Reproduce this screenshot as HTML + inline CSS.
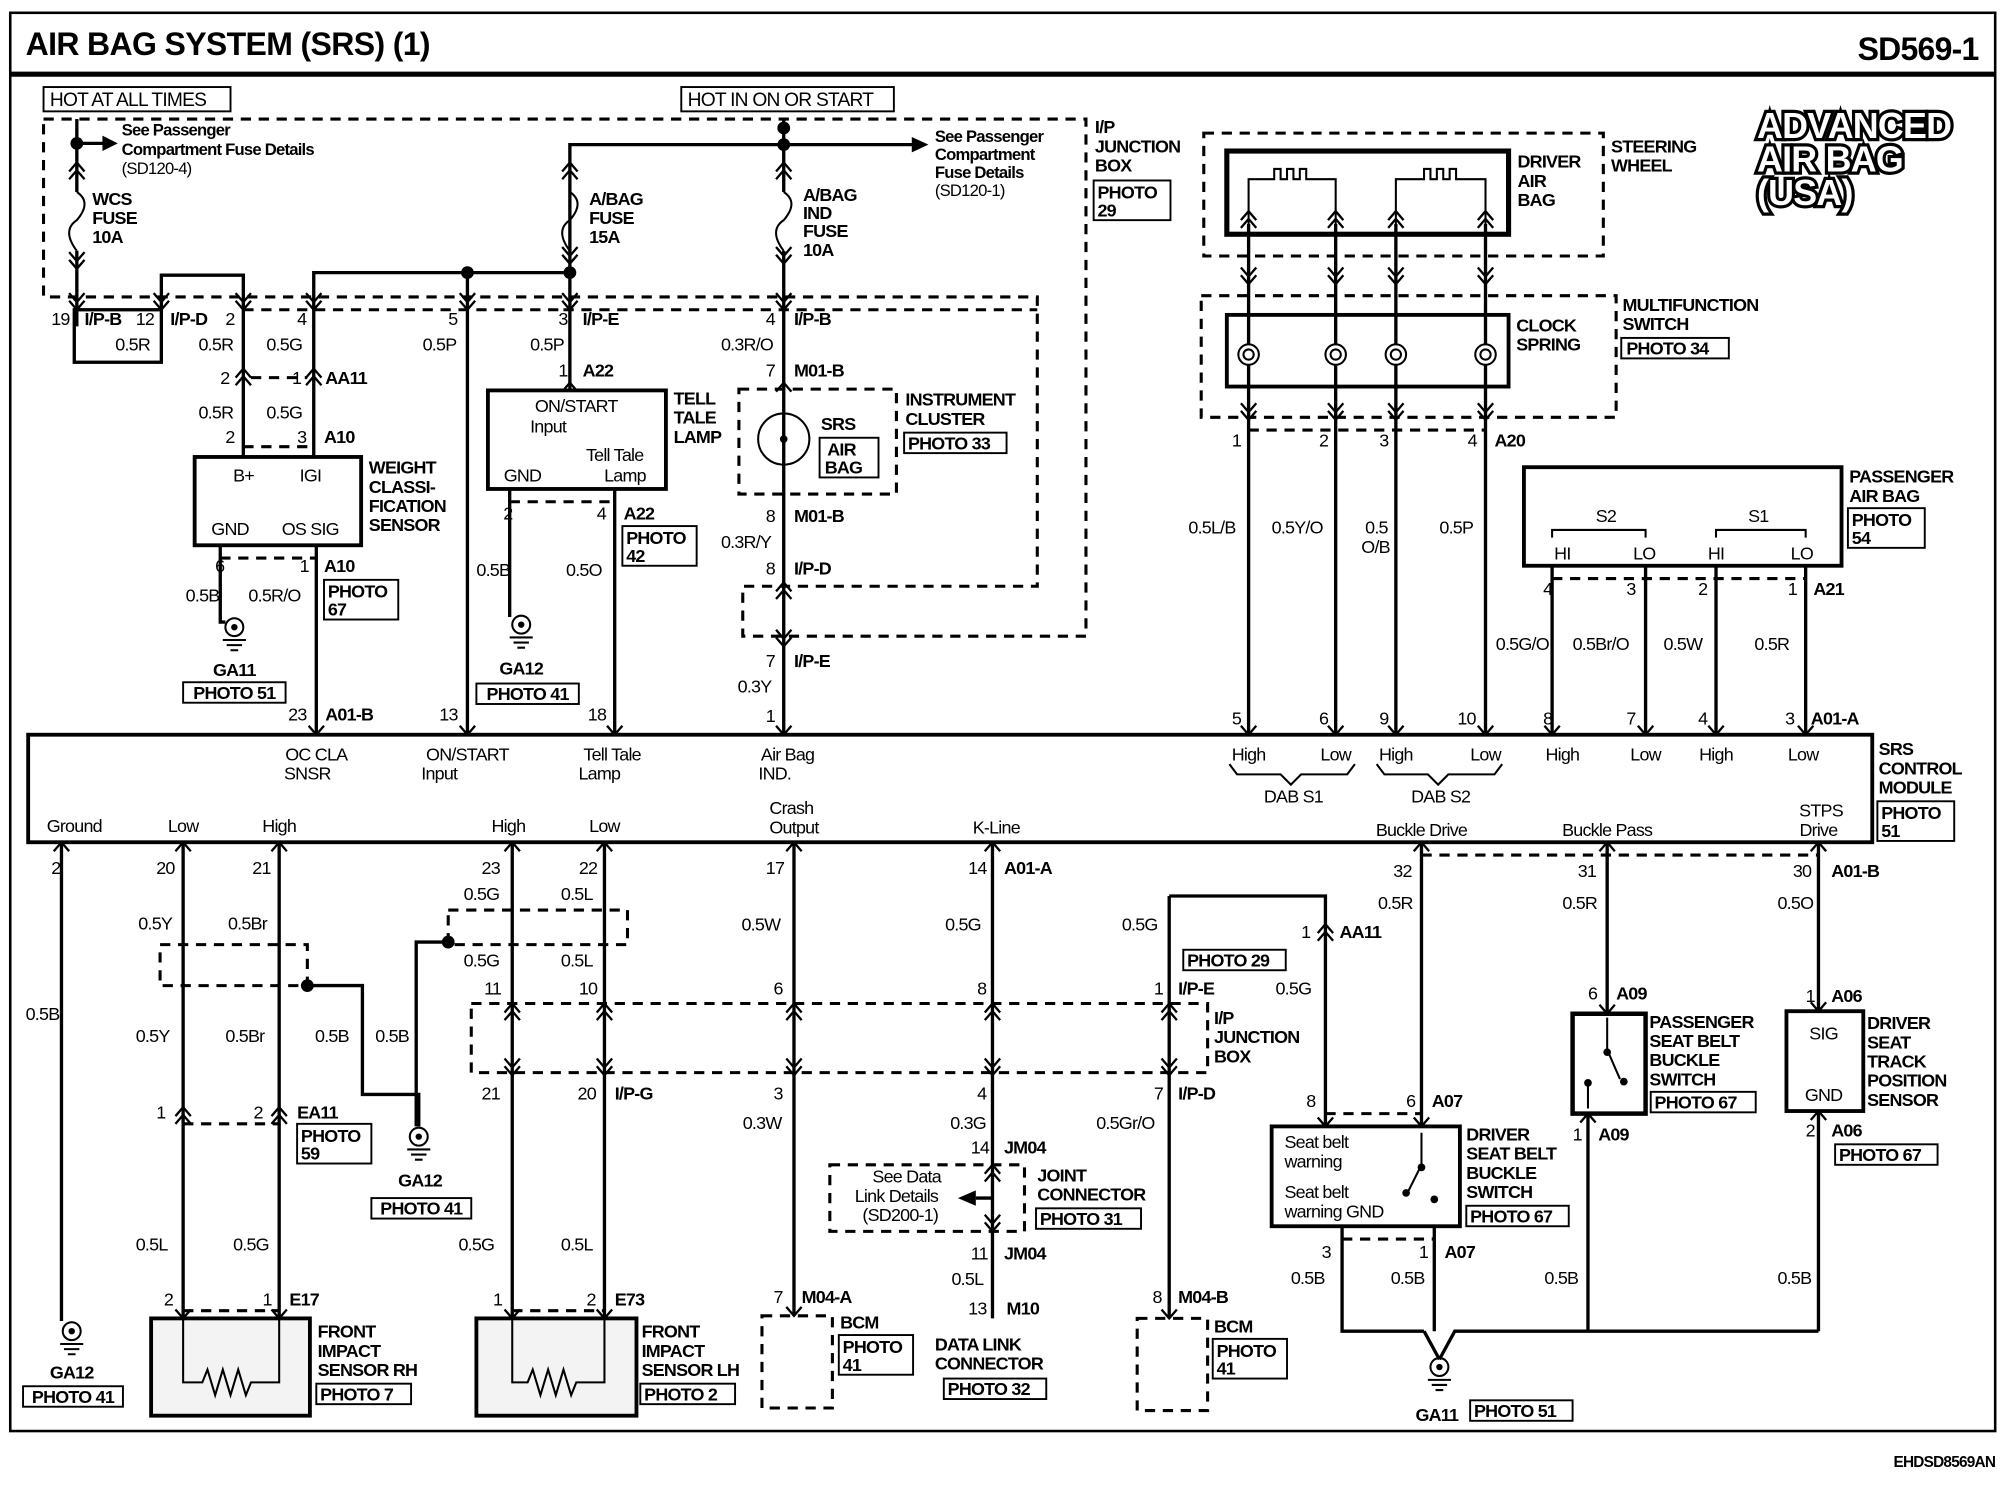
<!DOCTYPE html>
<html><head><meta charset="utf-8"><style>
html,body{margin:0;padding:0;background:#fff}
svg{display:block}
.w{stroke:#000;stroke-width:2.6;fill:none}
.n{stroke:#000;stroke-width:1.6;fill:none}
.d{stroke:#000;stroke-width:2.4;fill:none;stroke-dasharray:8 6}
.b{stroke:#000;stroke-width:3;fill:#fff}
.v{stroke:#000;stroke-width:1.8;fill:none}
text{font-family:"Liberation Sans",Arial,sans-serif;font-size:14px;font-weight:bold;letter-spacing:-0.6px;fill:#000}
.s{font-weight:normal}
.c{text-anchor:middle}
.r{text-anchor:end}
</style></head><body>
<svg width="2008" height="1504" viewBox="0 0 1568 1175" preserveAspectRatio="none" xmlns="http://www.w3.org/2000/svg">
<defs>
<path id="dn" class="v" d="M-6 -7 L0 0 L6 -7 M-6 -13 L0 -6 L6 -13"/>
<path id="up" class="v" d="M-6 7 L0 0 L6 7 M-6 13 L0 6 L6 13"/>
<path id="d1" class="v" d="M-6 -7 L0 0 L6 -7"/>
<path id="u1" class="v" d="M-6 7 L0 0 L6 7"/>
</defs>
<rect x="8" y="10" width="1550" height="1108" fill="none" stroke="#000" stroke-width="2"/>
<line x1="8" y1="58" x2="1558" y2="58" stroke="#000" stroke-width="4"/>
<text x="20" y="43" style="font-size:25px;letter-spacing:-0.5px">AIR BAG SYSTEM (SRS) (1)</text>
<text x="1545" y="47" class="r" style="font-size:25px">SD569-1</text>
<text x="1558" y="1146" class="r" style="font-size:12px">EHDSD8569AN</text>

<rect x="34" y="68" width="146" height="19" fill="none" stroke="#000" stroke-width="1.5"/>
<text x="39" y="83" class="s" style="font-size:15px">HOT AT ALL TIMES</text>
<rect x="532" y="68" width="166" height="19" fill="none" stroke="#000" stroke-width="1.5"/>
<text x="537" y="83" class="s" style="font-size:15px">HOT IN ON OR START</text>

<path class="d" d="M34 93 H848 V497 H580 V458 H810 V232 H34 Z"/>
<path class="d" d="M190 242 H440 M440 242 H810"/>

<path class="w" d="M60 93 V150 M60 196 V255"/>
<path class="n" d="M60 150 q12 8 0 22 q-12 8 0 24"/>
<circle cx="60" cy="112" r="5"/><path class="w" d="M60 112 H82"/><path d="M80 106 L92 112 L80 118Z"/>
<text x="95" y="106" style="font-size:13px">See Passenger</text>
<text x="95" y="121" style="font-size:13px">Compartment Fuse Details</text>
<text x="95" y="136" style="font-size:13px" class="s">(SD120-4)</text>
<text x="72" y="160">WCS</text><text x="72" y="175">FUSE</text><text x="72" y="190">10A</text>
<use href="#up" x="60" y="127"/><use href="#dn" x="60" y="210"/>

<rect x="58" y="242" width="68" height="41" fill="none" stroke="#000" stroke-width="2.6"/>
<path class="w" d="M126 242 V215 H190 V360 M245 360 V213 H445 M365 213 V574 M445 213 V113 H612 M445 213 V305"/>
<circle cx="365" cy="213" r="5"/><circle cx="445" cy="213" r="5"/>
<path class="n" d="M445 150 q12 8 0 22 q-12 8 0 24" fill="#fff"/>
<use href="#up" x="445" y="127"/><use href="#dn" x="445" y="206"/>
<use href="#up" x="612" y="127"/><use href="#dn" x="612" y="206"/>
<use href="#dn" x="60" y="242"/><use href="#dn" x="126" y="242"/><use href="#dn" x="190" y="242"/><use href="#dn" x="245" y="242"/><use href="#dn" x="365" y="242"/><use href="#dn" x="445" y="242"/><use href="#dn" x="612" y="242"/>
<text x="460" y="160">A/BAG</text><text x="460" y="175">FUSE</text><text x="460" y="190">15A</text>
<text x="40" y="254" class="s">19</text><text x="66" y="254">I/P-B</text><text x="106" y="254" class="s">12</text><text x="133" y="254">I/P-D</text>
<text x="90" y="274" class="s">0.5R</text>
<text x="176" y="254" class="s">2</text><text x="232" y="254" class="s">4</text><text x="350" y="254" class="s">5</text><text x="436" y="254" class="s">3</text><text x="455" y="254">I/P-E</text>
<text x="155" y="274" class="s">0.5R</text><text x="208" y="274" class="s">0.5G</text><text x="330" y="274" class="s">0.5P</text><text x="414" y="274" class="s">0.5P</text>
<text x="172" y="300" class="s">2</text><text x="228" y="300" class="s">1</text><text x="254" y="300">AA11</text>
<path class="d" d="M196 295 H240"/>
<use href="#up" x="190" y="288"/><use href="#up" x="245" y="288"/>
<text x="155" y="327" class="s">0.5R</text><text x="208" y="327" class="s">0.5G</text>
<text x="176" y="346" class="s">2</text><text x="232" y="346" class="s">3</text><text x="253" y="346">A10</text>
<path class="d" d="M190 349 H245"/>
<text x="436" y="294" class="s">1</text><text x="455" y="294">A22</text>
<use href="#u1" x="445" y="299"/>

<path class="w" d="M612 93 V150 M612 196 V574"/>
<path class="n" d="M612 150 q12 8 0 22 q-12 8 0 24" fill="#fff"/>
<circle cx="612" cy="100" r="5"/><circle cx="612" cy="113" r="5"/>
<path class="w" d="M612 113 H715"/><path d="M712 107 L725 113 L712 119Z"/>
<text x="627" y="157">A/BAG</text><text x="627" y="171">IND</text><text x="627" y="185">FUSE</text><text x="627" y="200">10A</text>
<text x="730" y="111" style="font-size:13px">See Passenger</text><text x="730" y="125" style="font-size:13px">Compartment</text><text x="730" y="139" style="font-size:13px">Fuse Details</text><text x="730" y="153" style="font-size:13px" class="s">(SD120-1)</text>
<text x="855" y="104">I/P</text><text x="855" y="119">JUNCTION</text><text x="855" y="134">BOX</text>
<rect x="854" y="141" width="60" height="31" fill="none" stroke="#000" stroke-width="1.5"/><text x="857" y="155">PHOTO</text><text x="857" y="169">29</text>
<text x="598" y="254" class="s">4</text><text x="620" y="254">I/P-B</text>
<text x="563" y="274" class="s">0.3R/O</text>
<text x="598" y="294" class="s">7</text><text x="620" y="294">M01-B</text>
<use href="#u1" x="612" y="299"/>

<rect x="152" y="357" width="130" height="69" class="b"/>
<text x="182" y="376" class="s">B+</text><text x="234" y="376" class="s">IGI</text><text x="165" y="418" class="s">GND</text><text x="220" y="418" class="s">OS SIG</text>
<text x="288" y="370">WEIGHT</text><text x="288" y="385">CLASSI-</text><text x="288" y="400">FICATION</text><text x="288" y="415">SENSOR</text>
<path class="w" d="M172 426 V482 M247 426 V574"/>
<path class="d" d="M172 436 H247"/>
<text x="168" y="447" class="s">6</text><text x="234" y="447" class="s">1</text><text x="253" y="447">A10</text>
<text x="145" y="470" class="s">0.5B</text><text x="194" y="470" class="s">0.5R/O</text>
<rect x="253" y="453" width="58" height="31" fill="none" stroke="#000" stroke-width="1.5"/><text x="256" y="467">PHOTO</text><text x="256" y="481">67</text>
<circle cx="183" cy="490" r="7" class="n" stroke-width="2.5"/><circle cx="183" cy="490" r="2.5"/>
<path class="n" d="M174 500 H192 M177 504 H189 M180 508 H186"/>
<path class="w" d="M172 482 V486 H176"/>
<text x="183" y="528" class="c">GA11</text>
<rect x="143" y="533" width="80" height="16" fill="none" stroke="#000" stroke-width="1.5"/><text x="183" y="546" class="c">PHOTO 51</text>
<text x="225" y="563" class="s">23</text><text x="254" y="563">A01-B</text>
<text x="343" y="563" class="s">13</text>

<rect x="381" y="305" width="139" height="77" class="b"/>
<text x="450" y="322" class="c s">ON/START</text><text x="428" y="338" class="c s">Input</text>
<text x="480" y="360" class="c s">Tell Tale</text><text x="408" y="376" class="c s">GND</text><text x="488" y="376" class="c s">Lamp</text>
<text x="526" y="316">TELL</text><text x="526" y="331">TALE</text><text x="526" y="346">LAMP</text>
<path class="w" d="M398 382 V482 M480 382 V574"/>
<path class="d" d="M398 392 H480"/>
<text x="393" y="406" class="s">2</text><text x="466" y="406" class="s">4</text><text x="487" y="406">A22</text>
<rect x="486" y="411" width="58" height="31" fill="none" stroke="#000" stroke-width="1.5"/><text x="489" y="425">PHOTO</text><text x="489" y="439">42</text>
<text x="372" y="450" class="s">0.5B</text><text x="442" y="450" class="s">0.5O</text>
<circle cx="407" cy="488" r="7" class="n" stroke-width="2.5"/><circle cx="407" cy="488" r="2.5"/>
<path class="n" d="M398 498 H416 M401 502 H413 M404 506 H410"/>
<text x="407" y="527" class="c">GA12</text>
<rect x="372" y="534" width="80" height="16" fill="none" stroke="#000" stroke-width="1.5"/><text x="412" y="547" class="c">PHOTO 41</text>
<text x="459" y="563" class="s">18</text>

<rect x="577" y="304" width="123" height="82" class="d"/>
<circle cx="612" cy="343" r="20" class="n" fill="#fff"/><circle cx="612" cy="343" r="3"/>
<text x="641" y="336">SRS</text>
<rect x="640" y="342" width="46" height="31" fill="none" stroke="#000" stroke-width="1.5"/><text x="646" y="356">AIR</text><text x="644" y="370">BAG</text>
<text x="707" y="317">INSTRUMENT</text><text x="707" y="332">CLUSTER</text>
<rect x="706" y="338" width="80" height="16" fill="none" stroke="#000" stroke-width="1.5"/><text x="709" y="351">PHOTO 33</text>
<text x="598" y="408" class="s">8</text><text x="620" y="408">M01-B</text>
<text x="563" y="428" class="s">0.3R/Y</text>
<text x="598" y="449" class="s">8</text><text x="620" y="449">I/P-D</text>
<use href="#up" x="612" y="455"/><use href="#dn" x="612" y="505"/>
<text x="598" y="521" class="s">7</text><text x="620" y="521">I/P-E</text>
<text x="576" y="541" class="s">0.3Y</text>
<text x="598" y="564" class="s">1</text>

<rect x="940" y="104" width="312" height="96" class="d"/>
<rect x="958" y="118" width="220" height="65" fill="none" stroke="#000" stroke-width="4"/>
<path class="n" d="M975 175 V140 H995 V132 H1000 V140 H1005 V132 H1010 V140 H1015 V132 H1020 V140 H1043 V175"/>
<path class="n" d="M1090 175 V140 H1112 V132 H1117 V140 H1122 V132 H1127 V140 H1132 V132 H1137 V140 H1160 V175"/>
<text x="1185" y="131">DRIVER</text><text x="1185" y="146">AIR</text><text x="1185" y="161">BAG</text>
<text x="1258" y="119">STEERING</text><text x="1258" y="134">WHEEL</text>
<rect x="938" y="231" width="324" height="95" class="d"/>
<rect x="958" y="246" width="220" height="56" fill="none" stroke="#000" stroke-width="3"/>
<g class="n"><circle cx="975" cy="277" r="8"/><circle cx="975" cy="277" r="4"/><circle cx="1043" cy="277" r="8"/><circle cx="1043" cy="277" r="4"/><circle cx="1090" cy="277" r="8"/><circle cx="1090" cy="277" r="4"/><circle cx="1160" cy="277" r="8"/><circle cx="1160" cy="277" r="4"/></g>
<text x="1184" y="259">CLOCK</text><text x="1184" y="274">SPRING</text>
<text x="1267" y="243">MULTIFUNCTION</text><text x="1267" y="258">SWITCH</text>
<rect x="1266" y="264" width="84" height="16" fill="none" stroke="#000" stroke-width="1.5"/><text x="1270" y="277">PHOTO 34</text>
<path class="w" d="M975 175 V269 M975 285 V574 M1043 175 V269 M1043 285 V574 M1090 175 V269 M1090 285 V574 M1160 175 V269 M1160 285 V574"/>
<use href="#up" x="975" y="165"/><use href="#up" x="1043" y="165"/><use href="#up" x="1090" y="165"/><use href="#up" x="1160" y="165"/>
<use href="#dn" x="975" y="222"/><use href="#dn" x="1043" y="222"/><use href="#dn" x="1090" y="222"/><use href="#dn" x="1160" y="222"/>
<use href="#dn" x="975" y="328"/><use href="#dn" x="1043" y="328"/><use href="#dn" x="1090" y="328"/><use href="#dn" x="1160" y="328"/>
<path class="d" d="M975 336 H1160"/>
<text x="962" y="349" class="s">1</text><text x="1030" y="349" class="s">2</text><text x="1077" y="349" class="s">3</text><text x="1146" y="349" class="s">4</text><text x="1167" y="349">A20</text>
<text x="928" y="417" class="s">0.5L/B</text><text x="993" y="417" class="s">0.5Y/O</text><text x="1066" y="417" class="s">0.5</text><text x="1063" y="432" class="s">O/B</text><text x="1124" y="417" class="s">0.5P</text>
<text x="962" y="566" class="s">5</text><text x="1030" y="566" class="s">6</text><text x="1077" y="566" class="s">9</text><text x="1138" y="566" class="s">10</text>

<text x="1372" y="108" style="font-size:28px;fill:#fff;stroke:#000;stroke-width:5;paint-order:stroke">ADVANCED</text>
<text x="1372" y="134" style="font-size:28px;fill:#fff;stroke:#000;stroke-width:5;paint-order:stroke">AIR BAG</text>
<text x="1372" y="160" style="font-size:28px;fill:#fff;stroke:#000;stroke-width:5;paint-order:stroke">(USA)</text>

<rect x="1190" y="365" width="248" height="77" class="b"/>
<text x="1254" y="408" class="c s">S2</text><text x="1373" y="408" class="c s">S1</text>
<path class="n" d="M1212 420 V414 H1285 V420 M1340 420 V414 H1410 V420"/>
<text x="1220" y="437" class="c s">HI</text><text x="1284" y="437" class="c s">LO</text><text x="1340" y="437" class="c s">HI</text><text x="1407" y="437" class="c s">LO</text>
<text x="1444" y="377">PASSENGER</text><text x="1444" y="392">AIR BAG</text>
<rect x="1443" y="397" width="60" height="31" fill="none" stroke="#000" stroke-width="1.5"/><text x="1446" y="411">PHOTO</text><text x="1446" y="425">54</text>
<path class="w" d="M1212 442 V574 M1285 442 V574 M1340 442 V574 M1410 442 V574"/>
<path class="d" d="M1212 452 H1410"/>
<text x="1205" y="465" class="s">4</text><text x="1270" y="465" class="s">3</text><text x="1326" y="465" class="s">2</text><text x="1396" y="465" class="s">1</text><text x="1416" y="465">A21</text>
<text x="1168" y="508" class="s">0.5G/O</text><text x="1228" y="508" class="s">0.5Br/O</text><text x="1299" y="508" class="s">0.5W</text><text x="1370" y="508" class="s">0.5R</text>
<text x="1205" y="566" class="s">8</text><text x="1270" y="566" class="s">7</text><text x="1326" y="566" class="s">4</text><text x="1394" y="566" class="s">3</text><text x="1414" y="566">A01-A</text>

<rect x="22" y="574" width="1440" height="84" fill="#fff" stroke="#000" stroke-width="3"/>
<g>
<use href="#d1" x="247" y="574"/><use href="#d1" x="365" y="574"/><use href="#d1" x="480" y="574"/><use href="#d1" x="612" y="574"/>
<use href="#d1" x="975" y="574"/><use href="#d1" x="1043" y="574"/><use href="#d1" x="1090" y="574"/><use href="#d1" x="1160" y="574"/>
<use href="#d1" x="1212" y="574"/><use href="#d1" x="1285" y="574"/><use href="#d1" x="1340" y="574"/><use href="#d1" x="1410" y="574"/>
<use href="#u1" x="48" y="658"/><use href="#u1" x="143" y="658"/><use href="#u1" x="218" y="658"/><use href="#u1" x="400" y="658"/><use href="#u1" x="472" y="658"/><use href="#u1" x="620" y="658"/><use href="#u1" x="775" y="658"/><use href="#u1" x="1110" y="658"/><use href="#u1" x="1255" y="658"/><use href="#u1" x="1420" y="658"/>
</g>
<text x="247" y="594" class="c s">OC CLA</text><text x="240" y="609" class="c s">SNSR</text>
<text x="365" y="594" class="c s">ON/START</text><text x="343" y="609" class="c s">Input</text>
<text x="478" y="594" class="c s">Tell Tale</text><text x="468" y="609" class="c s">Lamp</text>
<text x="615" y="594" class="c s">Air Bag</text><text x="605" y="609" class="c s">IND.</text>
<text x="975" y="594" class="c s">High</text><text x="1043" y="594" class="c s">Low</text><text x="1090" y="594" class="c s">High</text><text x="1160" y="594" class="c s">Low</text>
<text x="1220" y="594" class="c s">High</text><text x="1285" y="594" class="c s">Low</text><text x="1340" y="594" class="c s">High</text><text x="1408" y="594" class="c s">Low</text>
<path class="n" d="M960 597 l6 8 H1000 l8 8 l8 -8 H1052 l6 -8 M1075 597 l6 8 H1115 l8 8 l8 -8 H1167 l6 -8"/>
<text x="1010" y="627" class="c s">DAB S1</text><text x="1125" y="627" class="c s">DAB S2</text>
<text x="58" y="650" class="c s">Ground</text><text x="143" y="650" class="c s">Low</text><text x="218" y="650" class="c s">High</text>
<text x="397" y="650" class="c s">High</text><text x="472" y="650" class="c s">Low</text>
<text x="618" y="636" class="c s">Crash</text><text x="620" y="651" class="c s">Output</text>
<text x="778" y="651" class="c s">K-Line</text>
<text x="1110" y="653" class="c s">Buckle Drive</text><text x="1255" y="653" class="c s">Buckle Pass</text>
<text x="1422" y="638" class="c s">STPS</text><text x="1420" y="653" class="c s">Drive</text>
<text x="1467" y="590">SRS</text><text x="1467" y="605">CONTROL</text><text x="1467" y="620">MODULE</text>
<rect x="1466" y="626" width="60" height="31" fill="none" stroke="#000" stroke-width="1.5"/><text x="1469" y="640">PHOTO</text><text x="1469" y="654">51</text>

<path class="w" d="M48 658 V1032 M143 658 V1030 M218 658 V1030 M400 658 V1030 M472 658 V1030 M620 658 V1028 M775 658 V1030 M913 700 H1035 V880 M913 700 V1030 M1110 658 V880 M1255 658 V792 M1420 658 V790"/>
<path class="d" d="M1110 668 H1420"/>
<text x="40" y="683" class="s">2</text><text x="122" y="683" class="s">20</text><text x="197" y="683" class="s">21</text>
<text x="376" y="683" class="s">23</text><text x="452" y="683" class="s">22</text><text x="598" y="683" class="s">17</text><text x="756" y="683" class="s">14</text><text x="784" y="683">A01-A</text>
<text x="1088" y="685" class="s">32</text><text x="1232" y="685" class="s">31</text><text x="1400" y="685" class="s">30</text><text x="1430" y="685">A01-B</text>
<text x="362" y="703" class="s">0.5G</text><text x="438" y="703" class="s">0.5L</text>
<text x="1076" y="710" class="s">0.5R</text><text x="1220" y="710" class="s">0.5R</text><text x="1388" y="710" class="s">0.5O</text>
<text x="108" y="726" class="s">0.5Y</text><text x="178" y="726" class="s">0.5Br</text>
<text x="579" y="727" class="s">0.5W</text><text x="738" y="727" class="s">0.5G</text><text x="876" y="727" class="s">0.5G</text>
<text x="1016" y="733" class="s">1</text><text x="1046" y="733">AA11</text>
<use href="#up" x="1035" y="722"/>
<rect x="924" y="742" width="80" height="16" fill="none" stroke="#000" stroke-width="1.5"/><text x="927" y="755">PHOTO 29</text>
<path class="d" d="M350 711 H490 V738 H350 Z"/>
<circle cx="350" cy="736" r="5"/><path class="w" d="M350 736 H325 V880"/>
<text x="362" y="755" class="s">0.5G</text><text x="438" y="755" class="s">0.5L</text>
<path class="d" d="M125 738 H240 V770 H125 Z"/>
<circle cx="240" cy="770" r="5"/><path class="w" d="M240 770 H283 V855 H327 V880"/>
<text x="378" y="777" class="s">11</text><text x="452" y="777" class="s">10</text><text x="604" y="777" class="s">6</text><text x="763" y="777" class="s">8</text><text x="901" y="777" class="s">1</text><text x="920" y="777">I/P-E</text>
<text x="996" y="777" class="s">0.5G</text>
<text x="20" y="797" class="s">0.5B</text>
<path class="d" d="M368 784 H943 V838 H368 Z"/>
<g>
<use href="#up" x="400" y="784"/><use href="#up" x="472" y="784"/><use href="#up" x="620" y="784"/><use href="#up" x="775" y="784"/><use href="#up" x="913" y="784"/>
<use href="#dn" x="400" y="840"/><use href="#dn" x="472" y="840"/><use href="#dn" x="620" y="840"/><use href="#dn" x="775" y="840"/><use href="#dn" x="913" y="840"/>
</g>
<text x="948" y="800">I/P</text><text x="948" y="815">JUNCTION</text><text x="948" y="830">BOX</text>
<text x="106" y="814" class="s">0.5Y</text><text x="176" y="814" class="s">0.5Br</text><text x="246" y="814" class="s">0.5B</text><text x="293" y="814" class="s">0.5B</text>
<text x="376" y="859" class="s">21</text><text x="451" y="859" class="s">20</text><text x="480" y="859">I/P-G</text><text x="604" y="859" class="s">3</text><text x="763" y="859" class="s">4</text><text x="901" y="859" class="s">7</text><text x="920" y="859">I/P-D</text>
<text x="1020" y="865" class="s">8</text><text x="1098" y="865" class="s">6</text><text x="1118" y="865">A07</text>
<text x="122" y="874" class="s">1</text><text x="198" y="874" class="s">2</text><text x="232" y="874">EA11</text>
<path class="d" d="M143 878 H218"/>
<use href="#up" x="143" y="865"/><use href="#up" x="218" y="865"/>
<rect x="232" y="878" width="58" height="31" fill="none" stroke="#000" stroke-width="1.5"/><text x="235" y="892">PHOTO</text><text x="235" y="906">59</text>
<text x="580" y="882" class="s">0.3W</text><text x="742" y="882" class="s">0.3G</text><text x="856" y="882" class="s">0.5Gr/O</text>
<circle cx="327" cy="888" r="7" class="n" stroke-width="2.5"/><circle cx="327" cy="888" r="2.5"/>
<path class="n" d="M318 898 H336 M321 902 H333 M324 906 H330"/>
<text x="328" y="927" class="c">GA12</text>
<rect x="290" y="936" width="78" height="16" fill="none" stroke="#000" stroke-width="1.5"/><text x="329" y="949" class="c">PHOTO 41</text>
<text x="758" y="901" class="s">14</text><text x="784" y="901">JM04</text>
<use href="#up" x="775" y="910"/><use href="#dn" x="775" y="962"/>
<rect x="648" y="910" width="152" height="52" class="d"/>
<text x="708" y="924" class="c s">See Data</text><text x="700" y="939" class="c s">Link Details</text><text x="703" y="954" class="c s">(SD200-1)</text>
<path class="w" d="M762 936 H775"/><path d="M762 930 L748 936 L762 942Z"/>
<text x="810" y="923">JOINT</text><text x="810" y="938">CONNECTOR</text>
<rect x="809" y="944" width="82" height="16" fill="none" stroke="#000" stroke-width="1.5"/><text x="812" y="957">PHOTO 31</text>
<text x="758" y="984" class="s">11</text><text x="784" y="984">JM04</text>
<text x="743" y="1004" class="s">0.5L</text>
<text x="756" y="1027" class="s">13</text><text x="786" y="1027">M10</text>
<text x="106" y="977" class="s">0.5L</text><text x="182" y="977" class="s">0.5G</text><text x="358" y="977" class="s">0.5G</text><text x="438" y="977" class="s">0.5L</text>
<text x="604" y="1018" class="s">7</text><text x="626" y="1018">M04-A</text><text x="900" y="1018" class="s">8</text><text x="920" y="1018">M04-B</text>
<text x="128" y="1020" class="s">2</text><text x="205" y="1020" class="s">1</text><text x="226" y="1020">E17</text>
<text x="385" y="1020" class="s">1</text><text x="458" y="1020" class="s">2</text><text x="480" y="1020">E73</text>
<path class="d" d="M143 1024 H218 M400 1024 H472"/>
<use href="#d1" x="143" y="1030"/><use href="#d1" x="218" y="1030"/><use href="#d1" x="400" y="1030"/><use href="#d1" x="472" y="1030"/><use href="#d1" x="620" y="1028"/><use href="#d1" x="913" y="1030"/>

<rect x="118" y="1030" width="124" height="76" fill="#f3f3f3" stroke="#000" stroke-width="3"/>
<path class="n" d="M143 1030 V1080 H158 l4 -10 l6 20 l6 -20 l6 20 l6 -20 l6 20 l4 -10 H218 V1030"/>
<text x="248" y="1045">FRONT</text><text x="248" y="1060">IMPACT</text><text x="248" y="1075">SENSOR RH</text>
<rect x="247" y="1081" width="74" height="16" fill="none" stroke="#000" stroke-width="1.5"/><text x="250" y="1094">PHOTO 7</text>
<rect x="372" y="1030" width="125" height="76" fill="#f3f3f3" stroke="#000" stroke-width="3"/>
<path class="n" d="M400 1030 V1080 H412 l4 -10 l6 20 l6 -20 l6 20 l6 -20 l6 20 l4 -10 H472 V1030"/>
<text x="501" y="1045">FRONT</text><text x="501" y="1060">IMPACT</text><text x="501" y="1075">SENSOR LH</text>
<rect x="500" y="1081" width="74" height="16" fill="none" stroke="#000" stroke-width="1.5"/><text x="503" y="1094">PHOTO 2</text>
<rect x="595" y="1028" width="55" height="72" class="d"/>
<text x="656" y="1038">BCM</text>
<rect x="655" y="1043" width="58" height="31" fill="none" stroke="#000" stroke-width="1.5"/><text x="658" y="1057">PHOTO</text><text x="658" y="1071">41</text>
<text x="730" y="1055">DATA LINK</text><text x="730" y="1070">CONNECTOR</text>
<rect x="737" y="1077" width="80" height="16" fill="none" stroke="#000" stroke-width="1.5"/><text x="740" y="1090">PHOTO 32</text>
<rect x="888" y="1030" width="55" height="72" class="d"/>
<text x="948" y="1041">BCM</text>
<rect x="947" y="1046" width="58" height="31" fill="none" stroke="#000" stroke-width="1.5"/><text x="950" y="1060">PHOTO</text><text x="950" y="1074">41</text>

<circle cx="56" cy="1040" r="7" class="n" stroke-width="2.5"/><circle cx="56" cy="1040" r="2.5"/>
<path class="n" d="M47 1050 H65 M50 1054 H62 M53 1058 H59"/>
<text x="56" y="1077" class="c">GA12</text>
<rect x="18" y="1083" width="78" height="16" fill="none" stroke="#000" stroke-width="1.5"/><text x="57" y="1096" class="c">PHOTO 41</text>

<path class="d" d="M1035 870 H1110"/>
<rect x="993" y="880" width="147" height="78" class="b"/>
<use href="#d1" x="1035" y="880"/><use href="#d1" x="1110" y="880"/>
<text x="1003" y="897" class="s">Seat belt</text><text x="1003" y="912" class="s">warning</text>
<text x="1003" y="936" class="s">Seat belt</text><text x="1003" y="951" class="s">warning GND</text>
<path class="n" d="M1110 885 V910 M1110 910 L1100 930"/><circle cx="1110" cy="912" r="3"/><circle cx="1098" cy="932" r="3"/><circle cx="1120" cy="937" r="3"/>
<text x="1145" y="891">DRIVER</text><text x="1145" y="906">SEAT BELT</text><text x="1145" y="921">BUCKLE</text><text x="1145" y="936">SWITCH</text>
<rect x="1145" y="942" width="80" height="16" fill="none" stroke="#000" stroke-width="1.5"/><text x="1148" y="955">PHOTO 67</text>
<path class="w" d="M1048 958 V1040 H1112 M1120 958 V1040 M1240 870 V1040 M1420 868 V1040 M1112 1040 L1124 1062 M1240 1040 H1136 L1124 1062 M1420 1040 H1240"/>
<path class="d" d="M1048 968 H1120"/>
<text x="1032" y="983" class="s">3</text><text x="1108" y="983" class="s">1</text><text x="1128" y="983">A07</text>
<text x="1008" y="1003" class="s">0.5B</text><text x="1086" y="1003" class="s">0.5B</text><text x="1206" y="1003" class="s">0.5B</text><text x="1388" y="1003" class="s">0.5B</text>
<circle cx="1124" cy="1068" r="7" class="n" stroke-width="2.5"/><circle cx="1124" cy="1068" r="2.5"/>
<path class="n" d="M1115 1078 H1133 M1118 1082 H1130 M1121 1086 H1127"/>
<text x="1122" y="1110" class="c">GA11</text>
<rect x="1148" y="1094" width="80" height="16" fill="none" stroke="#000" stroke-width="1.5"/><text x="1151" y="1107">PHOTO 51</text>

<text x="1240" y="781" class="s">6</text><text x="1262" y="781">A09</text>
<rect x="1228" y="792" width="57" height="78" fill="#fff" stroke="#000" stroke-width="3.5"/>
<use href="#d1" x="1255" y="792"/><use href="#u1" x="1240" y="870"/>
<path class="n" d="M1255 795 V820 L1265 843 M1240 845 V866"/><circle cx="1255" cy="822" r="3"/><circle cx="1240" cy="846" r="3"/><circle cx="1268" cy="845" r="3"/>
<text x="1288" y="803">PASSENGER</text><text x="1288" y="818">SEAT BELT</text><text x="1288" y="833">BUCKLE</text><text x="1288" y="848">SWITCH</text>
<rect x="1289" y="853" width="82" height="16" fill="none" stroke="#000" stroke-width="1.5"/><text x="1292" y="866">PHOTO 67</text>
<text x="1228" y="891" class="s">1</text><text x="1248" y="891">A09</text>

<text x="1410" y="783" class="s">1</text><text x="1430" y="783">A06</text>
<rect x="1395" y="790" width="60" height="78" class="b"/>
<use href="#d1" x="1420" y="790"/><use href="#u1" x="1420" y="868"/>
<text x="1424" y="812" class="c s">SIG</text><text x="1424" y="860" class="c s">GND</text>
<text x="1458" y="804">DRIVER</text><text x="1458" y="819">SEAT</text><text x="1458" y="834">TRACK</text><text x="1458" y="849">POSITION</text><text x="1458" y="864">SENSOR</text>
<text x="1410" y="888" class="s">2</text><text x="1430" y="888">A06</text>
<rect x="1433" y="894" width="80" height="16" fill="none" stroke="#000" stroke-width="1.5"/><text x="1436" y="907">PHOTO 67</text>
</svg>
</body></html>
